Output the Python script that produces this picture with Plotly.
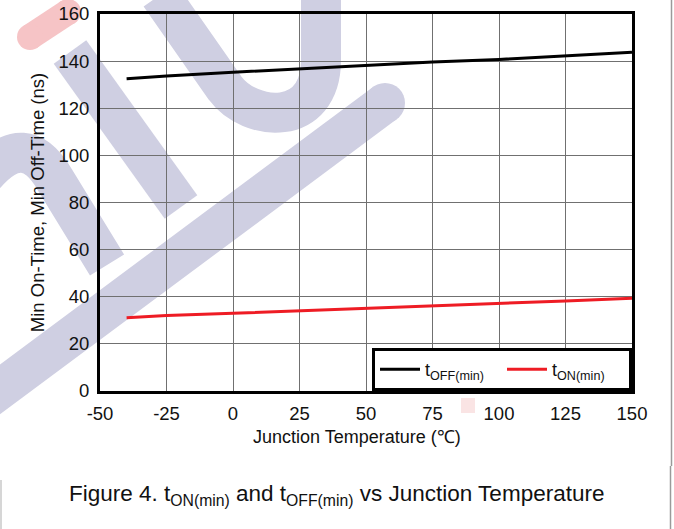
import plotly.graph_objects as go

# Junction temperature sweep (°C) and measured minimum times (ns)
temps = [-40, -25, 0, 25, 50, 75, 100, 125, 150]
t_off_min = [132.5, 133.7, 135.3, 136.8, 138.4, 139.6, 140.7, 142.2, 143.8]
t_on_min = [31.1, 32.0, 33.0, 34.0, 34.9, 36.1, 37.2, 38.2, 39.4]

x_ticks = [-50, -25, 0, 25, 50, 75, 100, 125, 150]
y_ticks = [0, 20, 40, 60, 80, 100, 120, 140, 160]

W, H = 674, 529
L, R, T, B = 100, 42, 14, 138
PW, PH = W - L - R, H - T - B

FONT = "Liberation Sans, Arial, sans-serif"


def px(x):
    return (x - L) / PW


def py(y):
    return (T + PH - y) / PH


def path(points, cmds):
    out = []
    i = 0
    for c in cmds:
        n = {"M": 1, "L": 1, "Q": 2, "C": 3}[c]
        seg = " ".join(f"{px(x):.4f},{py(y):.4f}" for x, y in points[i:i + n])
        out.append(f"{c} {seg}")
        i += n
    return " ".join(out)


fig = go.Figure()
fig.add_trace(go.Scatter(x=temps, y=t_off_min, mode="lines", name="t<sub>OFF(min)</sub>",
                         line=dict(color="#000000", width=3)))
fig.add_trace(go.Scatter(x=temps, y=t_on_min, mode="lines", name="t<sub>ON(min)</sub>",
                         line=dict(color="#ee1c24", width=3)))

lav = "rgb(207,207,226)"
shapes = []
# background watermark bands
bands = [
    ([(70, 52), (181, 207)], "ML"),
    ([(160, -5), (225, 88), (250, 122), (321, 128), (321, 60), (321, -5)], "MLCL"),
    ([(-25, 408), (385, 103)], "ML"),
    ([(-15, 175), (25, 128), (55, 180), (107, 265)], "MQL"),
]
for pts, cmds in bands:
    shapes.append(dict(type="path", xref="paper", yref="paper", layer="below",
                       path=path(pts, cmds), line=dict(color=lav, width=40)))
# rounded end of the long band
shapes.append(dict(type="circle", xref="paper", yref="paper", layer="below",
                   x0=px(365), x1=px(405), y0=py(83), y1=py(123),
                   fillcolor=lav, line=dict(width=0)))
# pink capsule at top-left
shapes.append(dict(type="path", xref="paper", yref="paper", layer="below",
                   path=path([(30, 37), (68, 12)], "ML"),
                   line=dict(color="rgb(246,196,198)", width=26)))
for cx, cy in [(30, 37), (68, 12)]:
    shapes.append(dict(type="circle", xref="paper", yref="paper", layer="below",
                       x0=px(cx - 13), x1=px(cx + 13), y0=py(cy - 13), y1=py(cy + 13),
                       fillcolor="rgb(246,196,198)", line=dict(width=0)))
shapes.append(dict(type="rect", xref="paper", yref="paper", layer="below",
                   x0=px(461), x1=px(475), y0=py(413), y1=py(398),
                   fillcolor="rgb(250,228,228)", line=dict(width=0)))
# page frame lines
shapes.append(dict(type="line", xref="paper", yref="paper",
                   x0=px(671.5), x1=px(671.5), y0=py(0), y1=py(466),
                   line=dict(color="#9a9a9a", width=1.5)))
shapes.append(dict(type="line", xref="paper", yref="paper",
                   x0=px(670.5), x1=px(670.5), y0=py(466), y1=py(529),
                   line=dict(color="#9a9a9a", width=1.5)))
shapes.append(dict(type="line", xref="paper", yref="paper",
                   x0=px(1), x1=px(1), y0=py(480), y1=py(529),
                   line=dict(color="#c8c8c8", width=1.5)))

axis_common = dict(
    showgrid=True, gridcolor="#707070", gridwidth=1,
    showline=True, linecolor="#000000", linewidth=3, mirror=True,
    zeroline=False, ticks="", automargin=False,
    tickfont=dict(family=FONT, size=18.5, color="#111111"),
)

fig.update_layout(
    width=W, height=H,
    margin=dict(l=L, r=R, t=T, b=B, pad=0),
    paper_bgcolor="white", plot_bgcolor="rgba(0,0,0,0)",
    font=dict(family=FONT, color="#111111"),
    xaxis=dict(range=[-50, 150], tickvals=x_ticks, ticktext=[str(v) for v in x_ticks],
               ticklabelstandoff=4, **axis_common),
    yaxis=dict(range=[0, 160], tickvals=y_ticks, ticktext=[str(v) for v in y_ticks],
               title=dict(text="Min On-Time, Min Off-Time (ns)", font=dict(size=18.5), standoff=9),
               ticklabelstandoff=4, **axis_common),
    legend=dict(orientation="h", x=1, xanchor="right", y=0, yanchor="bottom",
                bgcolor="white", bordercolor="#000000", borderwidth=3,
                font=dict(family=FONT, size=18, color="#111111"),
                entrywidth=72, itemwidth=40),
    shapes=shapes,
    annotations=[
        dict(text="Junction Temperature (℃)", xref="paper", yref="paper",
             x=px(357), y=py(437), xanchor="center", yanchor="middle",
             showarrow=False, font=dict(family=FONT, size=18, color="#111111")),
        dict(text="Figure 4. t<sub>ON(min)</sub> and t<sub>OFF(min)</sub> vs Junction Temperature",
             xref="paper", yref="paper", x=px(336), y=py(495), xanchor="center", yanchor="middle",
             showarrow=False, font=dict(family=FONT, size=22.5, color="#111111")),
    ],
)

fig.write_html("out.html")
